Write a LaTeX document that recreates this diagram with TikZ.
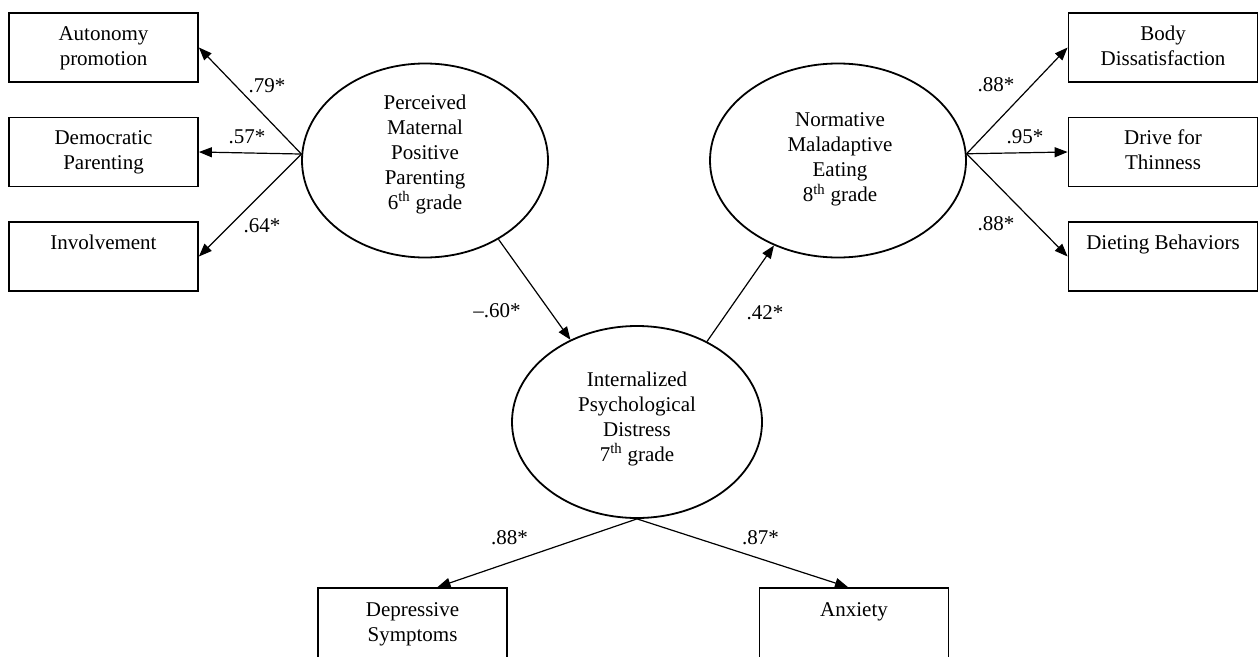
\documentclass[tikz,border=0pt]{standalone}
\usepackage{fontspec}
\setmainfont{Liberation Serif}
\usetikzlibrary{arrows.meta,shapes.geometric}
\begin{document}
\begin{tikzpicture}[x=1pt,y=-1pt,
  txt/.style={font=\fontsize{21}{25}\selectfont},
  box/.style={txt,draw,line width=1.8pt,rectangle,minimum width=189pt,minimum height=69pt,inner sep=0pt,align=center},
  lbox/.style={box,minimum height=72pt},
  lat/.style={draw,line width=1.8pt,ellipse,inner sep=0pt},
  ltext/.style={txt,align=center,inner sep=0pt},
  arr/.style={line width=1.2pt,-{Triangle[length=13pt,width=10pt]}},
  coef/.style={txt,inner sep=0pt}]
\path[use as bounding box,clip] (0,0) rectangle (1258,656);

% latent variables
\node[lat,minimum width=246pt,minimum height=194pt] (L) at (425,160.5) {};
\node[lat,minimum width=256pt,minimum height=194pt] (R) at (838,160.5) {};
\node[lat,minimum width=250pt,minimum height=192pt] (M) at (637,422) {};
\node[ltext] (Lt) at (425,154) {Perceived\\Maternal\\Positive\\Parenting\\6\textsuperscript{th} grade};
\node[ltext] (Rt) at (840,159.5) {Normative\\Maladaptive\\Eating\\8\textsuperscript{th} grade};
\node[ltext] (Mt) at (637,418.5) {Internalized\\Psychological\\Distress\\7\textsuperscript{th} grade};

% indicators
\node[box] (A)  at (103.5,47.5)  {\strut Autonomy\\\strut promotion};
\node[box] (Dm) at (103.5,152)   {\strut Democratic\\\strut Parenting};
\node[box] (I)  at (103.5,256.5) {\strut Involvement\\\strut};
\node[box] (B)  at (1163,47.5)   {\strut Body\\\strut Dissatisfaction};
\node[box] (Dr) at (1163,152)    {\strut Drive for\\\strut Thinness};
\node[box] (Dt) at (1163,256.5)  {\strut Dieting Behaviors\\\strut};
\node[lbox] (Dp) at (412.5,624)  {\strut Depressive\\\strut Symptoms};
\node[lbox] (An) at (854,624)    {\strut Anxiety\\\strut};

% loadings
\draw[arr] (L.177) -- (A.east);
\draw[arr] (L.177) -- (Dm.east);
\draw[arr] (L.177) -- (I.east);
\draw[arr] (R.3) -- (B.west);
\draw[arr] (R.3) -- (Dr.west);
\draw[arr] (R.3) -- (Dt.west);
\draw[arr] (M.south) -- ([xshift=25pt]Dp.north);
\draw[arr] (M.south) -- ([xshift=-6pt]An.north);

% structural paths
\draw[arr] (L.-47.5) -- (M.129);
\draw[arr] (M.49.5) -- (R.-127);

% coefficients
\node[coef] (c1) at (267,86)  {.79*};
\node[coef] (c2) at (247,137) {.57*};
\node[coef] (c3) at (262,226) {.64*};
\node[coef] (c4) at (996,85)  {.88*};
\node[coef] (c5) at (1025,137) {.95*};
\node[coef] (c6) at (996,224) {.88*};
\node[coef] (c7) at (497,311) {--.60*};
\node[coef] (c8) at (765,313) {.42*};
\node[coef] (c9) at (509.5,538) {.88*};
\node[coef] (c10) at (760.5,538) {.87*};
\end{tikzpicture}
\end{document}
